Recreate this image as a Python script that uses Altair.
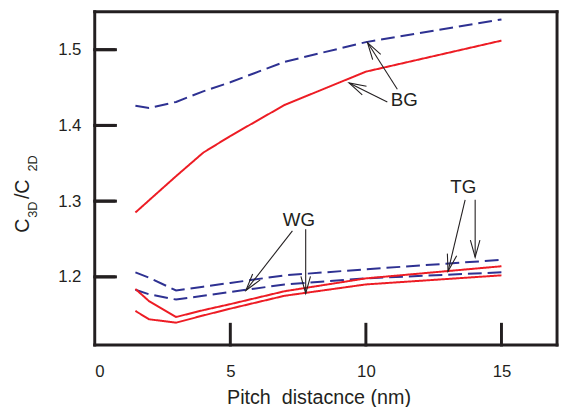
import math
import altair as alt
import pandas as pd

# ---------------- data ----------------
pitch = [1.5, 2, 3, 4, 5, 7, 10, 15]
bg_dash = [1.426, 1.423, 1.431, 1.445, 1.457, 1.484, 1.510, 1.540]
bg_solid = [1.285, 1.301, 1.333, 1.364, 1.386, 1.427, 1.471, 1.512]
g1_dash = [1.206, 1.199, 1.182, 1.187, 1.192, 1.202, 1.210, 1.2225]
g2_dash = [1.183, 1.177, 1.170, 1.175, 1.180, 1.190, 1.198, 1.206]
g1_solid = [1.184, 1.168, 1.147, 1.156, 1.164, 1.181, 1.198, 1.214]
g2_solid = [1.155, 1.144, 1.1395, 1.149, 1.158, 1.175, 1.190, 1.202]

series_names = ["BG dashed", "BG solid", "G1 dashed", "G2 dashed", "G1 solid", "G2 solid"]
series_vals = [bg_dash, bg_solid, g1_dash, g2_dash, g1_solid, g2_solid]
series_style = ["dash", "solid", "dash", "dash", "solid", "solid"]

x_ticks = [0, 5, 10, 15]
y_ticks = [1.2, 1.3, 1.4, 1.5]
x_inner_ticks = [5, 10, 15]

# annotation labels and arrows (data units)
labels = ["BG", "WG", "TG"]
label_x = [11.42, 7.53, 13.59]
label_y = [1.433, 1.2747, 1.3184]

arrow_x0 = [10.79, 11.16, 7.29, 7.78, 13.66, 14.03]
arrow_y0 = [1.431, 1.4477, 1.2607, 1.263, 1.3017, 1.3017]
arrow_x1 = [9.38, 10.06, 5.575, 7.78, 13.03, 14.03]
arrow_y1 = [1.456, 1.5094, 1.1821, 1.178, 1.2073, 1.226]

# ---------------- layout ----------------
XMIN, XMAX = 0, 17.05
YMIN, YMAX = 1.11, 1.55
W, H = 469, 338
TICK_PX = 21
FONT = "Liberation Sans"
INK = "#231f20"
RED = "#ed1c24"
BLUE = "#2e3192"

sx = W / (XMAX - XMIN)
sy = H / (YMAX - YMIN)

rows = []
for name, vals, sty in zip(series_names, series_vals, series_style):
    for xv, yv in zip(pitch, vals):
        rows.append({"series": name, "x": xv, "y": yv, "style": sty})
lines_df = pd.DataFrame(rows)

xs = alt.Scale(domain=[XMIN, XMAX], nice=False, zero=False)
ys = alt.Scale(domain=[YMIN, YMAX], nice=False, zero=False)

lines = alt.Chart(lines_df).mark_line(strokeWidth=2, clip=True).encode(
    x=alt.X("x:Q", scale=xs, axis=alt.Axis(
        values=x_ticks, title="Pitch\u00a0\u00a0distacnce (nm)", grid=False,
        ticks=False, domain=False, labelFontSize=17, labelFont=FONT,
        labelColor=INK, labelPadding=19, titleFont=FONT, titleFontSize=20,
        titleFontWeight="normal", titleColor=INK, titleX=227, titleY=59,
        titleBaseline="alphabetic", titleAlign="center")),
    y=alt.Y("y:Q", scale=ys, axis=alt.Axis(
        values=y_ticks, format=".1f", title=None, grid=False, ticks=False,
        domain=False, labelFontSize=17, labelFont=FONT, labelColor=INK,
        labelPadding=14)),
    detail="series:N",
    color=alt.Color("style:N", scale=alt.Scale(domain=["dash", "solid"], range=[BLUE, RED]), legend=None),
    strokeDash=alt.StrokeDash("style:N", scale=alt.Scale(domain=["dash", "solid"], range=[[14, 6], [1, 0]]), legend=None),
)

one = pd.DataFrame({"k": [0]})


def rule(**enc):
    return alt.Chart(one).mark_rule(color=INK, strokeWidth=3, strokeCap="square").encode(**enc)


# frame
frame = [
    rule(x=alt.value(0), x2=alt.value(W), y=alt.value(0)),
    rule(x=alt.value(0), x2=alt.value(W), y=alt.value(H)),
    rule(x=alt.value(0), y=alt.value(0), y2=alt.value(H)),
    rule(x=alt.value(W), y=alt.value(0), y2=alt.value(H)),
]

# inward x ticks
ticks = []
for v in x_inner_ticks:
    px = (v - XMIN) * sx
    ticks.append(rule(x=alt.value(px), y=alt.value(H), y2=alt.value(H - TICK_PX)))
# inward y ticks (rules)
for v in y_ticks:
    py = (YMAX - v) * sy
    ticks.append(rule(x=alt.value(0), x2=alt.value(TICK_PX), y=alt.value(py), y2=alt.value(py)))

# inward y ticks also as short two-point lines
yt_rows = []
for i, v in enumerate(y_ticks):
    yt_rows.append({"tid": i, "tx": XMIN, "ty": v})
    yt_rows.append({"tid": i, "tx": XMIN + TICK_PX / sx, "ty": v})
ytick_lines = alt.Chart(pd.DataFrame(yt_rows)).mark_line(
    color=INK, strokeWidth=3, strokeCap="butt").encode(
    x=alt.X("tx:Q", scale=xs), y=alt.Y("ty:Q", scale=ys), detail="tid:N")

# arrows
angles = []
for a, b, c, d in zip(arrow_x0, arrow_y0, arrow_x1, arrow_y1):
    dx = (c - a) * sx
    dy = -(d - b) * sy
    angles.append(math.degrees(math.atan2(dy, dx)) % 360)
arr_df = pd.DataFrame({"x0": arrow_x0, "y0": arrow_y0, "x1": arrow_x1, "y1": arrow_y1, "ang": angles})
shafts = alt.Chart(arr_df).mark_rule(color=INK, strokeWidth=1.1).encode(
    x=alt.X("x0:Q", scale=xs), y=alt.Y("y0:Q", scale=ys), x2="x1:Q", y2="y1:Q")
heads = alt.Chart(arr_df).mark_point(
    shape="M-1,-0.28L0,0L-1,0.28", filled=False, size=1200, color=INK, strokeWidth=1.1, opacity=1
).encode(
    x=alt.X("x1:Q", scale=xs), y=alt.Y("y1:Q", scale=ys),
    angle=alt.Angle("ang:Q", scale=None))

lab_df = pd.DataFrame({"t": labels, "x": label_x, "y": label_y})
labs = alt.Chart(lab_df).mark_text(font=FONT, fontSize=19, color=INK, align="center", baseline="middle").encode(
    x=alt.X("x:Q", scale=xs), y=alt.Y("y:Q", scale=ys), text="t:N")

# y-axis title pieces: C_3D / C_2D (rotated)
yt_text = ["C", "3D", "/C", "2D"]
yt_size = [20, 13, 20, 13]
yt_xoff = [-67, -59, -67, -59]
yt_ypos = [224, 209, 190, 162]
ytitle = []
for t, fs, xo, yp in zip(yt_text, yt_size, yt_xoff, yt_ypos):
    ytitle.append(alt.Chart(pd.DataFrame({"t": [t]})).mark_text(
        font=FONT, fontSize=fs, color=INK, angle=270, align="left", baseline="alphabetic"
    ).encode(x=alt.value(xo), y=alt.value(yp), text="t:N"))

chart = alt.layer(lines, shafts, heads, labs, *frame, *ticks, ytick_lines, *ytitle).properties(
    width=W, height=H,
    autosize=alt.AutoSizeParams(type="none"),
    padding={"left": 88, "top": 1, "right": 3, "bottom": 60},
).configure(background="white").configure_view(strokeWidth=0)

chart.save("out.html", embed_options={"renderer": "svg", "actions": False})
